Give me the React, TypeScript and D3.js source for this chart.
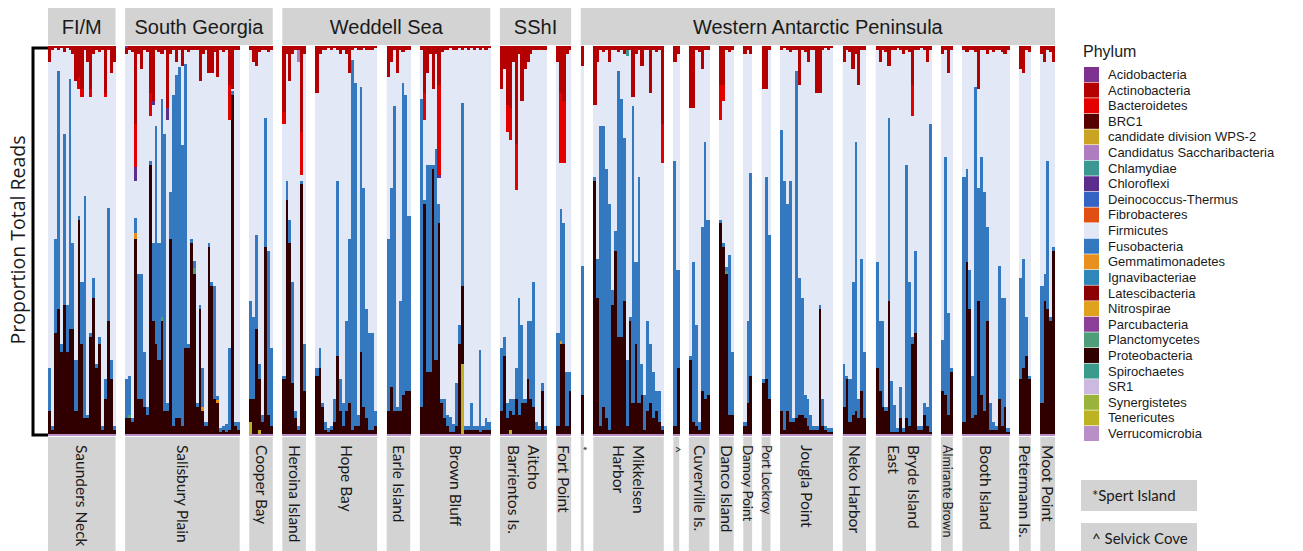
import React from 'react'
import * as d3 from 'd3'

// legend order = stack order from top to bottom
const phyla = [
  'Acidobacteria', 'Actinobacteria', 'Bacteroidetes', 'BRC1', 'candidate division WPS-2',
  'Candidatus Saccharibacteria', 'Chlamydiae', 'Chloroflexi', 'Deinococcus-Thermus', 'Fibrobacteres',
  'Firmicutes', 'Fusobacteria', 'Gemmatimonadetes', 'Ignavibacteriae', 'Latescibacteria',
  'Nitrospirae', 'Parcubacteria', 'Planctomycetes', 'Proteobacteria', 'Spirochaetes',
  'SR1', 'Synergistetes', 'Tenericutes', 'Verrucomicrobia',
]
const phylumColors = [
  '#7d3290', '#b40000', '#e50000', '#560000', '#c9a321',
  '#ad7dbf', '#3b9791', '#5b2d8d', '#3563c3', '#e04e14',
  '#e3e8f7', '#3479c0', '#e7901e', '#2f87b9', '#8b0000',
  '#dfa11e', '#8c3f97', '#4e9f79', '#300000', '#3a9a8b',
  '#cbb9df', '#9ab43b', '#bdb221', '#b890c7',
]

const regionNames = ['FI/M', 'South Georgia', 'Weddell Sea', 'SShI', 'Western Antarctic Peninsula']
const siteLabels = [
  ['Saunders Neck'], ['Salisbury Plain'], ['Cooper Bay'], ['Heroina Island'], ['Hope Bay'],
  ['Earle Island'], ['Brown Bluff'], ['Aitcho', 'Barrientos Is.'], ['Fort Point'], ['*'],
  ['Mikkelsen', 'Harbor'], ['^'], ['Cuverville Is.'], ['Danco Island'], ['Damoy Point'],
  ['Port Lockroy'], ['Jougla Point'], ['Neko Harbor'], ['Bryde Island', 'East'], ['Almirante Brown'],
  ['Booth Island'], ['Petermann Is.'], ['Moot Point'],
]
const siteRegion = [0, 1, 1, 2, 2, 2, 2, 3, 3, 4, 4, 4, 4, 4, 4, 4, 4, 4, 4, 4, 4, 4, 4]
const siteCounts = [23, 39, 8, 8, 21, 8, 24, 16, 5, 1, 24, 2, 7, 5, 3, 3, 18, 8, 19, 4, 16, 4, 5]
const siteVerruco = [0.5, 0.5, 0.5, 0.5, 0.5, 0.5, 0.5, 0.5, 0.5, 0.5, 0.5, 0.5, 0.5, 0.5, 0.5, 0.5, 0.5, 0.5, 0.5, 0.5, 0.5, 0.5, 0.5]

// percent of total reads, samples in site order
const proteobacteria = [
  6, 1, 26, 32, 21, 33, 21, 27, 27, 6, 55, 23, 4, 4, 25, 35, 17, 23, 1, 9, 29, 14, 1,
  4, 4, 3, 50, 9, 9, 7, 5, 69, 29, 23, 19, 29, 6, 6, 50, 2, 4, 4, 2, 22, 22, 49, 41, 7, 32, 6, 2, 48, 38, 9, 8, 0.5, 1, 0.5, 1, 87, 2, 1,
  6, 9, 27, 13, 3, 48, 5, 2,
  14, 60, 49, 13, 4, 1, 64, 11,
  15, 17, 7, 1, 0.5, 1, 3, 20, 6, 2, 6, 8, 1, 2, 2, 21, 7, 4, 1, 1, 2,
  6, 12, 6, 6, 6, 10, 11, 11,
  7, 59, 16, 16, 68, 19, 54, 8, 4, 2, 0.5, 0.5, 2, 23, 20, 1, 1, 1, 1, 1, 0.5, 1, 1, 1,
  6, 20, 4, 5, 5, 9, 5, 8, 8, 14, 9, 7, 1, 1, 11, 1,
  2, 23, 23, 2, 11,
  10,
  65, 35, 2, 7, 4, 1, 33, 47, 25, 25, 34, 2, 29, 8, 23, 8, 10, 1, 6, 8, 4, 6, 3, 1,
  2, 17,
  19, 3, 2, 1, 11, 9, 10,
  54, 48, 41, 5, 5,
  2, 8, 15,
  13, 14, 9,
  6, 1, 6, 3, 3, 4, 5, 5, 4, 2, 1, 1, 1, 32, 2, 1, 0.5, 0.5,
  7, 14, 3, 5, 6, 4, 11, 4,
  17, 11, 7, 6, 34, 0.5, 0.5, 0.5, 4, 0.5, 4, 2, 23, 26, 1, 1, 5, 2, 0.5,
  11, 10, 5, 16,
  3, 44, 32, 4, 5, 34, 10, 6, 29, 1, 1, 1, 9, 2, 7, 0.5,
  14, 17, 20, 14,
  8, 34, 32, 29, 47,
]
const fusobacteria = [
  11, 1, 24, 61, 2, 44, 12, 64, 22, 13, 1, 16, 57, 1, 1, 5, 1, 2, 1, 5, 29, 5, 1,
  10, 10, 1, 4, 32, 32, 14, 2, 1, 20, 56, 30, 56, 71, 2, 12, 85, 88, 90, 72, 73, 1, 1, 2, 1, 1, 10, 1, 1, 1, 29, 1, 1, 1, 2, 21, 1, 1, 2,
  25, 21, 24, 4, 2, 33, 42, 20,
  1, 5, 6, 26, 2, 1, 1, 12,
  2, 5, 1, 2, 1, 1, 6, 45, 8, 6, 23, 42, 95, 88, 3, 68, 56, 28, 25, 25, 4,
  44, 51, 78, 1, 28, 80, 76, 45,
  79, 1, 53, 53, 1, 54, 5, 1, 5, 3, 4, 2, 11, 5, 47, 1, 1, 7, 1, 1, 21, 1, 3, 2,
  16, 5, 4, 3, 4, 8, 30, 20, 1, 15, 20, 32, 2, 1, 2, 1,
  24, 34, 31, 14, 5,
  33,
  1, 10, 77, 72, 64, 58, 4, 5, 68, 61, 42, 17, 1, 76, 21, 58, 8, 9, 23, 15, 12, 5, 8, 1,
  68, 25,
  1, 41, 26, 2, 42, 66, 45,
  1, 1, 1, 41, 16,
  1, 21, 52,
  1, 52, 42,
  72, 64, 53, 62, 1, 89, 35, 30, 6, 7, 4, 1, 1, 1, 7, 1, 1, 1,
  11, 1, 11, 34, 69, 5, 34, 17,
  27, 18, 22, 1, 47, 13, 7, 1, 8, 1, 65, 37, 2, 21, 1, 1, 3, 5, 79,
  13, 61, 26, 1,
  63, 24, 10, 11, 84, 29, 61, 56, 24, 7, 2, 1, 34, 33, 28, 1,
  26, 28, 10, 1,
  30, 7, 38, 1, 1,
]
const actinobacteria = [
  4, 1, 0.5, 1, 0.5, 1.5, 0.5, 1, 2, 9, 8, 11, 1, 4, 11, 2, 1, 1.5, 1, 12, 1, 7, 4,
  1.5, 1, 1.5, 20, 2, 6, 1, 1.5, 12, 14, 1, 1.5, 2, 1, 16, 2, 1, 4, 1, 5, 1, 1.5, 1, 1, 1, 9, 2, 1, 7, 7, 1.5, 8, 1, 1.5, 1, 10, 11, 1, 1,
  1, 4, 5, 1.5, 1, 1, 1.5, 1,
  17, 2, 9, 2, 1, 1, 22, 2,
  12, 2, 1, 1, 0.5, 1, 0.5, 1, 2, 1, 2, 7, 1, 0.5, 1, 1, 0.5, 1, 1, 1, 0.5,
  8, 4, 1, 7, 1, 1.5, 1, 1,
  1, 12, 7, 2, 11, 2, 10, 1.5, 1, 1, 0.5, 1, 1, 0.5, 1, 0.5, 1, 0.5, 1, 0.5, 1, 0.5, 1, 0.5,
  11, 6, 15, 16, 4, 25, 2, 14, 6, 4, 2, 1, 1, 1, 1, 1,
  4, 12, 14, 2, 1,
  5,
  15, 4, 1, 1.5, 1, 4, 1, 1, 1.5, 1, 2, 1, 1, 13, 2, 1, 5, 1, 1, 12, 1, 1.5, 1, 20,
  4, 2,
  16, 16, 1, 1.5, 6, 1, 1,
  10, 10, 1, 1.5, 1,
  2, 1, 2,
  11, 11, 1,
  1, 0.5, 1, 1.5, 1, 1, 10, 1, 1.5, 4, 1, 1, 12, 12, 1, 0.5, 1, 0.5,
  4, 1, 1.5, 6, 2, 10, 1, 1,
  1, 4, 1, 1.5, 5, 1, 1, 0.5, 1, 2, 1, 1.5, 10, 1, 1, 0.5, 1, 4, 1,
  2, 1, 7, 1,
  1, 1.5, 1, 1, 1.5, 11, 1, 1, 2, 1, 1.5, 1, 1, 1.5, 2, 1,
  6, 7, 1, 1.5,
  2, 4, 1, 1.5, 4,
]
// sparse phyla: [site, sample within site, phylum, percent]
const sparseReads: [number, number, string, number][] = [
  [0, 10, 'Bacteroidetes', 3], [0, 11, 'Bacteroidetes', 2], [0, 14, 'Bacteroidetes', 2], [0, 19, 'Bacteroidetes', 1],
  [1, 3, 'Bacteroidetes', 11], [1, 3, 'Chloroflexi', 3.5], [1, 3, 'Gemmatimonadetes', 1.5],
  [1, 8, 'Bacteroidetes', 6], [1, 9, 'Chloroflexi', 1], [1, 14, 'Chloroflexi', 3], [1, 35, 'Bacteroidetes', 9],
  [1, 1, 'Planctomycetes', 1], [1, 12, 'Planctomycetes', 1], [1, 23, 'Planctomycetes', 1.5],
  [1, 26, 'Gemmatimonadetes', 1], [1, 31, 'Gemmatimonadetes', 0.8], [1, 0, 'Acidobacteria', 0.6],
  [2, 0, 'Tenericutes', 3], [2, 3, 'Tenericutes', 1],
  [3, 0, 'Bacteroidetes', 3], [3, 6, 'Bacteroidetes', 11], [3, 5, 'Candidatus Saccharibacteria', 3],
  [6, 1, 'Bacteroidetes', 7], [6, 6, 'Bacteroidetes', 23], [6, 14, 'Tenericutes', 18], [6, 6, 'Chloroflexi', 0.8],
  [7, 2, 'Bacteroidetes', 7], [7, 3, 'Bacteroidetes', 8], [7, 5, 'Bacteroidetes', 12], [7, 3, 'Tenericutes', 1],
  [8, 1, 'Bacteroidetes', 18], [8, 2, 'Bacteroidetes', 16], [8, 1, 'Gemmatimonadetes', 0.8],
  [10, 23, 'Bacteroidetes', 10], [10, 11, 'Chlamydiae', 1.5],
  [13, 0, 'Bacteroidetes', 9], [13, 1, 'Bacteroidetes', 4], [13, 2, 'Planctomycetes', 0.8],
  [18, 12, 'Bacteroidetes', 8],
]

const W = 1303
const H = 551
const plotTop = 46
const plotBottom = 436
const plotLeft = 48
const plotRight = 1055
const panelGap = 9.6
const stripBg = '#d3d3d3'
const axisFont = 'Lato, "Open Sans", sans-serif'
const headFont = '"Liberation Sans", Arial, sans-serif'

export default function App() {
  const totalBars = d3.sum(siteCounts)
  const barW = (plotRight - plotLeft - panelGap * (siteCounts.length - 1)) / totalBars
  const y = d3.scaleLinear().domain([0, 100]).range([plotBottom, plotTop])

  const stackKeys = [...phyla].reverse()
  const colorOf = d3.scaleOrdinal<string, string>().domain(phyla).range(phylumColors)

  let offset = 0
  const sites = siteCounts.map((count, si) => {
    const x0 = plotLeft + offset * barW + si * panelGap
    const x1 = x0 + count * barW
    const rows = d3.range(count).map(k => {
      const g = offset + k
      const row: Record<string, number> = {}
      phyla.forEach(p => { row[p] = 0 })
      row.Proteobacteria = proteobacteria[g]
      row.Fusobacteria = fusobacteria[g]
      row.Actinobacteria = actinobacteria[g]
      row.Verrucomicrobia = siteVerruco[si]
      sparseReads.filter(r => r[0] === si && r[1] === k).forEach(r => { row[r[2]] += r[3] })
      const rest = d3.sum(phyla.filter(p => p !== 'Firmicutes'), p => row[p])
      row.Firmicutes = Math.max(0, 100 - rest)
      return row
    })
    const series = d3.stack<Record<string, number>>().keys(stackKeys)(rows)
    const xb = d3.scaleBand<number>().domain(d3.range(count)).range([x0, x1]).paddingInner(0)
    offset += count
    return { si, x0, x1, series, xb, label: siteLabels[si] }
  })

  const regions = regionNames.map((name, ri) => {
    const members = sites.filter(s => siteRegion[s.si] === ri)
    return { name, x0: members[0].x0, x1: members[members.length - 1].x1 }
  })

  const legendY = d3.scaleBand<number>().domain(d3.range(phyla.length)).range([67, 441]).paddingInner(0.04)

  const labelSize = (l: string[]) =>
    l[0] === 'Port Lockroy' || l[0] === 'Almirante Brown' ? 12.5 : l[0] === 'Damoy Point' ? 13.5 : l[0].length === 1 ? 12 : 15.5

  return (
    <svg width={W} height={H} style={{ position: 'absolute', left: 0, top: 0, background: '#fff' }}>
      {/* region strips */}
      {regions.map(r => (
        <g key={r.name}>
          <rect x={r.x0} y={8} width={r.x1 - r.x0} height={37} fill={stripBg} />
          <text x={(r.x0 + r.x1) / 2} y={34} textAnchor="middle" fontFamily={headFont} fontSize={20} fill="#1a1a1a">
            {r.name}
          </text>
        </g>
      ))}

      {/* bars */}
      {sites.map(s => (
        <g key={s.si}>
          <rect x={s.x0} y={plotTop} width={s.x1 - s.x0} height={plotBottom - plotTop} fill={colorOf('Firmicutes')} />
          {s.series.map(layer => (
            <g key={layer.key} fill={colorOf(layer.key)} shapeRendering="crispEdges">
              {layer.map((d, k) => d[1] - d[0] > 0 ? (
                <rect key={k} x={s.xb(k)} width={barW + 0.3}
                  y={y(d[1])} height={y(d[0]) - y(d[1])} />
              ) : null)}
            </g>
          ))}
          {/* site strip */}
          <rect x={s.x0} y={437} width={s.x1 - s.x0} height={120} fill={stripBg} />
          {(() => {
            const fs = labelSize(s.label)
            const cx = (s.x0 + s.x1) / 2
            const n = s.label.length
            return (
              <text transform={`translate(${cx},${s.label[0].length === 1 ? 446 : 445}) rotate(90)`}
                fontFamily={axisFont} fontSize={fs} fill="#1a1a1a">
                {s.label.map((line, li) => (
                  <tspan key={li} x={0} y={0} dy={`${0.35 + (li - (n - 1) / 2) * 1.3}em`}>{line}</tspan>
                ))}
              </text>
            )
          })()}
        </g>
      ))}

      {/* y axis bracket */}
      <path d={`M${plotLeft},48 H33 V435 H${plotLeft}`} fill="none" stroke="#000" strokeWidth={3} />
      <text transform={`translate(25,240) rotate(-90)`} textAnchor="middle" fontFamily='"Open Sans", sans-serif' fontSize={19.5} fill="#1a1a1a">
        Proportion Total Reads
      </text>

      {/* legend */}
      <text x={1083} y={57} fontFamily={headFont} fontSize={16} fill="#1a1a1a">Phylum</text>
      {phyla.map((p, i) => (
        <g key={p}>
          <rect x={1084} y={legendY(i)} width={15} height={legendY.bandwidth()} fill={colorOf(p)} />
          <text x={1108} y={(legendY(i) as number) + legendY.bandwidth() / 2 + 4.5}
            fontFamily={headFont} fontSize={13} fill="#1a1a1a">{p}</text>
        </g>
      ))}

      {/* footnote boxes */}
      <rect x={1081} y={480} width={116} height={31} fill={stripBg} />
      <text x={1092} y={501} fontFamily={axisFont} fontSize={15} fill="#1a1a1a">*Spert Island</text>
      <rect x={1081} y={523} width={116} height={31} fill={stripBg} />
      <text x={1092} y={544} fontFamily={axisFont} fontSize={15} fill="#1a1a1a">^ Selvick Cove</text>
    </svg>
  )
}
